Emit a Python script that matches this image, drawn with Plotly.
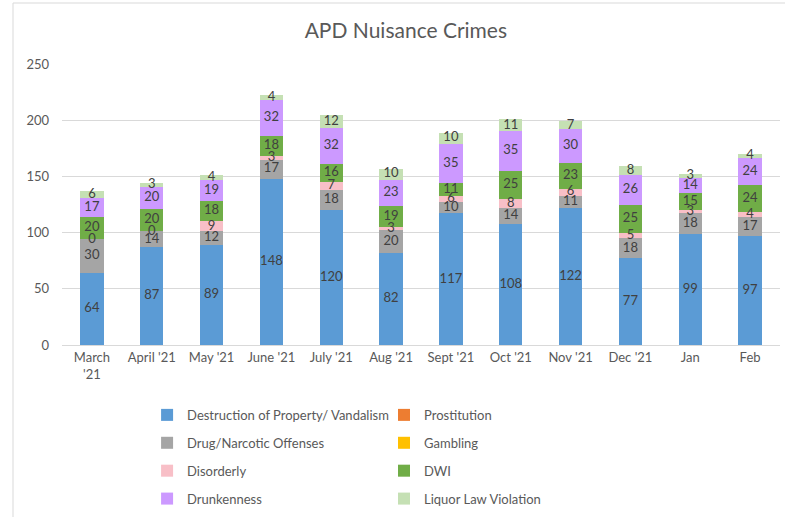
import numpy as np
import plotly.graph_objects as go

months = ["March<br>'21", "April '21", "May '21", "June '21", "July '21", "Aug '21",
          "Sept '21", "Oct '21", "Nov '21", "Dec '21", "Jan", "Feb"]

vandalism = [64, 87, 89, 148, 120, 82, 117, 108, 122, 77, 99, 97]
prostitution = [0, 0, 0, 0, 0, 0, 0, 0, 0, 0, 0, 0]
drug = [30, 14, 12, 17, 18, 20, 10, 14, 11, 18, 18, 17]
gambling = [0, 0, 0, 0, 0, 0, 0, 0, 0, 0, 0, 0]
disorderly = [0, 0, 9, 3, 7, 3, 6, 8, 6, 5, 3, 4]
dwi = [20, 20, 18, 18, 16, 19, 11, 25, 23, 25, 15, 24]
drunkenness = [17, 20, 19, 32, 32, 23, 35, 35, 30, 26, 14, 24]
liquor = [6, 3, 4, 4, 12, 10, 10, 11, 7, 8, 3, 4]

series = [
    ("Destruction of Property/ Vandalism", vandalism, "#5B9BD5", True, "legend"),
    ("Prostitution", prostitution, "#ED7D31", False, "legend2"),
    ("Drug/Narcotic Offenses", drug, "#A5A5A5", True, "legend"),
    ("Gambling", gambling, "#FFC000", False, "legend2"),
    ("Disorderly", disorderly, "#F8BFC7", True, "legend"),
    ("DWI", dwi, "#70AD47", True, "legend2"),
    ("Drunkenness", drunkenness, "#CC99FF", True, "legend"),
    ("Liquor Law Violation", liquor, "#C5E0B4", True, "legend2"),
]

FONT = "Lato, 'Open Sans', sans-serif"
fig = go.Figure()

# stacked bars
for name, vals, color, labelled, leg in series:
    fig.add_trace(go.Bar(
        x=months, y=vals, name=name, marker_color=color,
        marker_line_width=0, legend=leg, legendgroup=name,
    ))

# data labels drawn on top of all bars (centred in each segment)
base = np.zeros(len(months))
for name, vals, color, labelled, leg in series:
    v = np.array(vals, dtype=float)
    if labelled:
        fig.add_trace(go.Scatter(
            x=months, y=base + v / 2, mode="text", text=[str(int(t)) for t in v],
            textposition="middle center", cliponaxis=False,
            textfont=dict(family=FONT, size=13, color="#404040"),
            showlegend=False, hoverinfo="skip",
        ))
    base = base + v

fig.update_layout(
    width=785, height=517,
    barmode="stack", bargap=0.61,
    paper_bgcolor="white", plot_bgcolor="white",
    margin=dict(l=62, r=5, t=64, b=172, autoexpand=False),
    font=dict(family=FONT, size=13, color="#595959"),
    title=dict(text="APD Nuisance Crimes", x=0.517, xref="container", xanchor="center",
               y=0.94, yref="container", yanchor="middle",
               font=dict(family=FONT, size=21, color="#595959")),
    xaxis=dict(range=[-0.5, len(months) - 0.5], showgrid=False, showline=True,
               linecolor="#D9D9D9", linewidth=1,
               ticks="", tickfont=dict(size=13, color="#595959")),
    yaxis=dict(range=[0, 250], dtick=50, showgrid=True, gridcolor="#D9D9D9",
               gridwidth=1, zeroline=False, showline=False, ticks="",
               ticklabelstandoff=12, tickfont=dict(size=13, color="#595959")),
    legend=dict(orientation="v", x=0.1185, xanchor="left", y=-0.1955, yanchor="top",
                tracegroupgap=8, font=dict(size=13, color="#595959"), bgcolor="rgba(0,0,0,0)"),
    legend2=dict(orientation="v", x=0.4485, xanchor="left", y=-0.1955, yanchor="top",
                 tracegroupgap=8, font=dict(size=13, color="#595959"), bgcolor="rgba(0,0,0,0)"),
    shapes=[dict(type="rect", xref="paper", yref="paper",
                 x0=(13 - 62) / 718, x1=1.1, y0=-0.7, y1=(345 - 3) / 281,
                 line=dict(color="#D9D9D9", width=1), fillcolor="rgba(0,0,0,0)", layer="below")],
)

fig.write_html("out.html", config={"displayModeBar": False},
               post_script="document.body.style.margin='0';")
